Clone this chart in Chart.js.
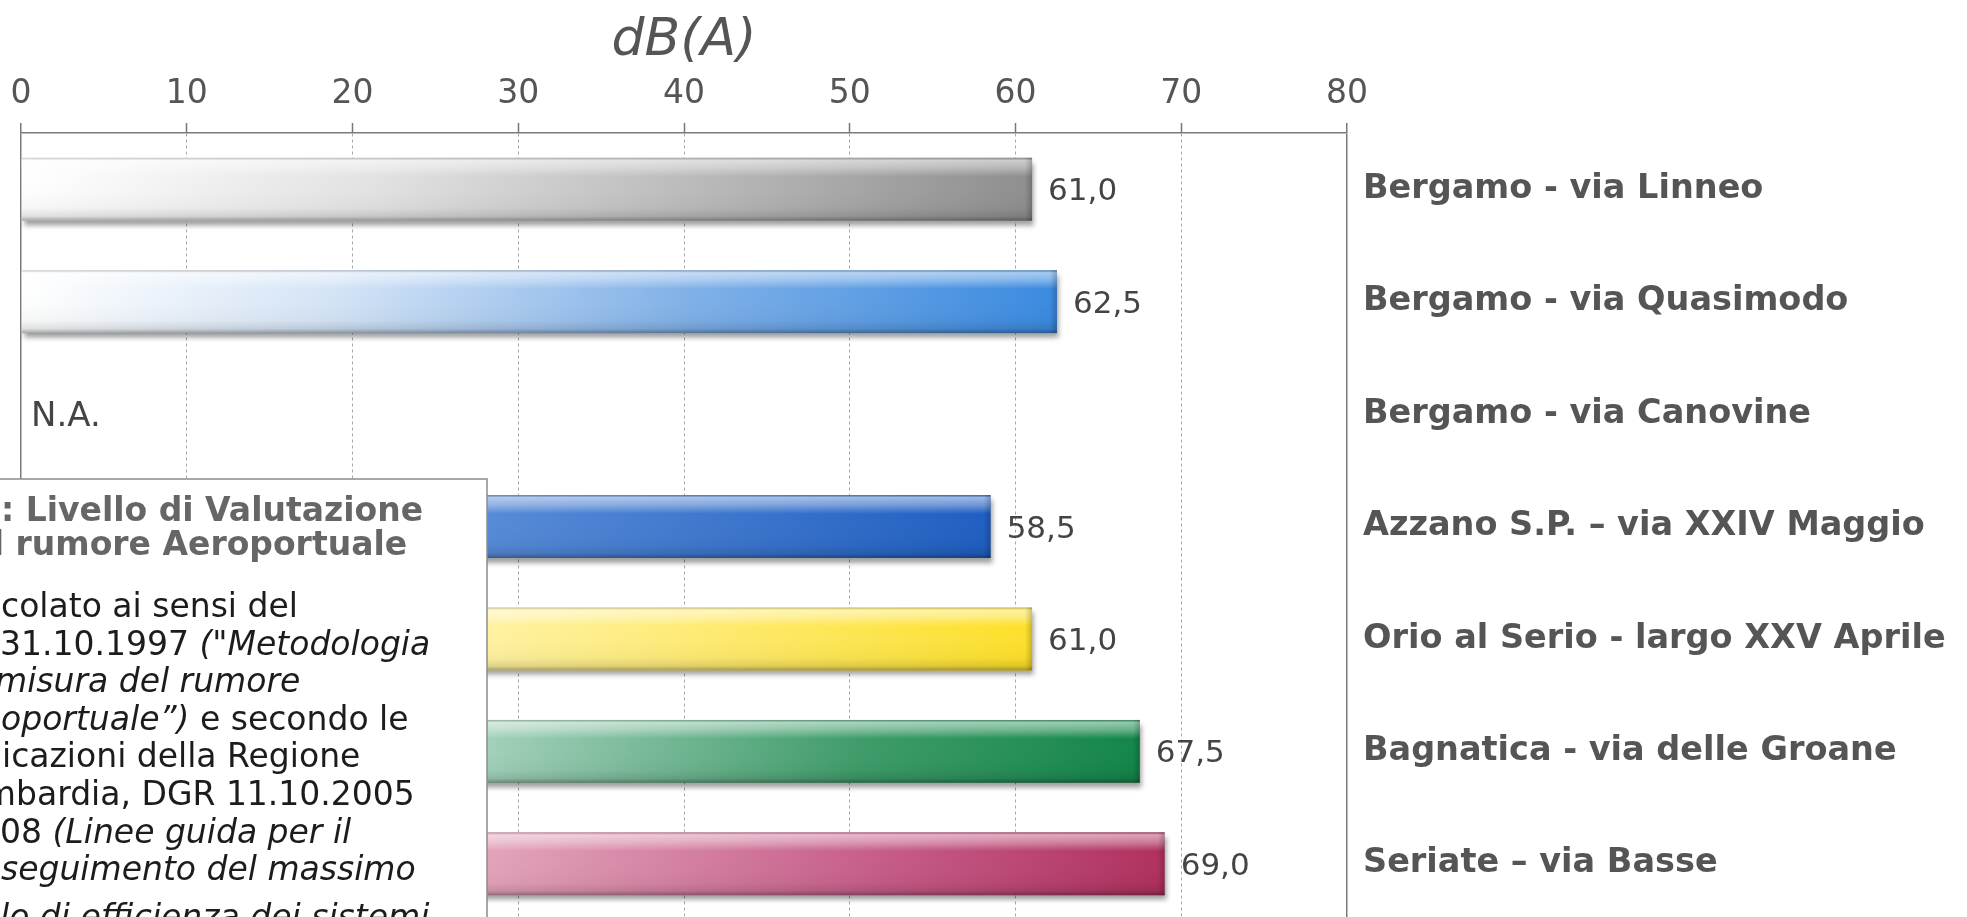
<!DOCTYPE html>
<html>
<head>
<meta charset="utf-8">
<script src="https://cdn.jsdelivr.net/npm/chart.js@4.4.1/dist/chart.umd.min.js"></script>
<style>
  html, body { margin: 0; padding: 0; background: #fff; overflow: hidden; }
  #wrap { width: 1967px; height: 932px; }
</style>
</head>
<body>
<div id="wrap"><canvas id="myChart" width="1967" height="932"></canvas></div>
<script>
// Chart data
var stations = [
    'Bergamo - via Linneo',
    'Bergamo - via Quasimodo',
    'Bergamo - via Canovine',
    'Azzano S.P. \u2013 via XXIV Maggio',
    'Orio al Serio - largo XXV Aprile',
    'Bagnatica - via delle Groane',
    'Seriate \u2013 via Basse'
];
var lvaValues = [61.0, 62.5, null, 58.5, 61.0, 67.5, 69.0];
var xTicks = [0, 10, 20, 30, 40, 50, 60, 70, 80];
var axisTitle = 'dB(A)';
var missingLabel = 'N.A.';

// Bar colours, left (light) -> right (dark)
var barStops = [
    [[0, '#ffffff'], [0.35, '#e2e2e2'], [0.75, '#b0b0b0'], [1, '#8e8e8e']],
    [[0, '#ffffff'], [0.3, '#d4e4f6'], [0.65, '#7fb0e8'], [1, '#3a8ae0']],
    [[0, '#ffffff'], [1, '#ffffff']],
    [[0, '#c4d6f2'], [0.45, '#5a8dd8'], [1, '#1f5fc2']],
    [[0, '#fffbe2'], [0.45, '#fff2a4'], [1, '#fde02a']],
    [[0, '#eaf5ef'], [0.4, '#a8d3be'], [0.75, '#3e9c6a'], [1, '#13864a']],
    [[0, '#fbe8ef'], [0.4, '#e3a5bc'], [0.75, '#c65d89'], [1, '#b0305f']]
];

// Text box drawn over the left part of the chart (cut by the page edge)
var noteLines = [
    { hide: '', parts: [[': Livello di Valutazione', 'b']] },
    { hide: 'del', parts: [[' rumore Aeroportuale', 'b']] },
    { hide: '', parts: [['colato ai sensi del', 'n']] },
    { hide: '', parts: [['31.10.1997 ', 'n'], ['("Metodologia', 'i']] },
    { hide: '', parts: [['misura del rumore', 'i']] },
    { hide: '', parts: [['oportuale\u201D)', 'i'], [' e secondo le', 'n']] },
    { hide: '', parts: [['icazioni della Regione', 'n']] },
    { hide: 'Lom', parts: [['bardia, DGR 11.10.2005', 'n']] },
    { hide: '', parts: [['08 ', 'n'], ['(Linee guida per il', 'i']] },
    { hide: '', parts: [['seguimento del massimo', 'i']] },
    { hide: '', parts: [['lo di efficienza dei sistemi', 'i']] }
];
var noteStartX = [1, 4, 1, 0, -5, 1, 2, 16, 0, 1, 0];

var FONT = '"DejaVu Sans", Verdana, sans-serif';
var canvasId = 'myChart';

function fmt(v) {
    return v.toFixed(1).replace('.', ',');
}

/**
 * Horizontal gradient for each bar, from value 0 to the bar's end
 */
function barFill(context) {
    let chart = context.chart;
    let i = context.dataIndex;
    let stops = barStops[i];
    if (!chart.chartArea || lvaValues[i] == null) {
        return stops[stops.length - 1][1];
    }
    let xs = chart.scales.x;
    let x0 = xs.getPixelForValue(0);
    let x1 = xs.getPixelForValue(lvaValues[i]);
    let g = chart.ctx.createLinearGradient(x0, 0, x1, 0);
    stops.forEach(function (s) { g.addColorStop(s[0], s[1]); });
    return g;
}

// Shadow under bars + glossy bevel on top of them
var barStyle = {
    id: 'barStyle',
    beforeDatasetsDraw: function (chart) {
        let c = chart.ctx;
        c.save();
        c.shadowColor = 'rgba(0,0,0,0.38)';
        c.shadowBlur = 5;
        c.shadowOffsetX = 2;
        c.shadowOffsetY = 5;
    },
    afterDatasetsDraw: function (chart) {
        let c = chart.ctx;
        c.restore();
        let meta = chart.getDatasetMeta(0);
        meta.data.forEach(function (bar, i) {
            if (lvaValues[i] == null) return;
            let h = bar.height;
            let top = bar.y - h / 2;
            let left = bar.base;
            let w = bar.x - bar.base;
            let g = c.createLinearGradient(0, top, 0, top + h);
            g.addColorStop(0, 'rgba(120,120,120,0.35)');
            g.addColorStop(0.04, 'rgba(255,255,255,0.55)');
            g.addColorStop(0.16, 'rgba(255,255,255,0.35)');
            g.addColorStop(0.3, 'rgba(255,255,255,0)');
            g.addColorStop(0.8, 'rgba(0,0,0,0.03)');
            g.addColorStop(0.93, 'rgba(0,0,0,0.12)');
            g.addColorStop(1, 'rgba(0,0,0,0.35)');
            c.fillStyle = g;
            c.fillRect(left, top, w, h);
            let gr = c.createLinearGradient(bar.x - 7, 0, bar.x, 0);
            gr.addColorStop(0, 'rgba(0,0,0,0)');
            gr.addColorStop(1, 'rgba(0,0,0,0.2)');
            c.fillStyle = gr;
            c.fillRect(bar.x - 7, top, 7, h);
        });
    }
};

// Value labels, N.A. and the note box
var overlays = {
    id: 'overlays',
    afterDraw: function (chart) {
        let c = chart.ctx;
        let xs = chart.scales.x;
        let ys = chart.scales.y;
        c.save();
        c.fillStyle = '#444';
        c.textAlign = 'left';
        c.textBaseline = 'middle';
        let meta = chart.getDatasetMeta(0);
        lvaValues.forEach(function (v, i) {
            let y = ys.getPixelForValue(i) + 3;
            if (v == null) {
                c.font = '34px ' + FONT;
                c.fillText(missingLabel, xs.getPixelForValue(0) + 10, y);
            } else {
                c.font = '31px ' + FONT;
                c.fillText(fmt(v), meta.data[i].x + 16, y);
            }
        });

        // note box
        c.fillStyle = '#ffffff';
        c.fillRect(-5, 479, 492, 480);
        c.strokeStyle = '#8c8c8c';
        c.lineWidth = 1.5;
        c.strokeRect(-5, 479, 492, 480);

        c.textBaseline = 'alphabetic';
        let baselines = [521, 555];
        for (let k = 2; k < noteLines.length - 1; k++) {
            baselines.push(617 + (k - 2) * 37.6);
        }
        baselines.push(928);
        let style = function (s) {
            if (s === 'b') return 'bold 33px ' + FONT;
            if (s === 'i') return 'italic 33px ' + FONT;
            return '33px ' + FONT;
        };
        noteLines.forEach(function (line, k) {
            let first = line.parts[0][1];
            c.font = style(first);
            let x = noteStartX[k] - c.measureText(line.hide).width;
            c.fillStyle = first === 'b' ? '#666666' : '#1c1c1c';
            if (line.hide) {
                c.fillText(line.hide, x, baselines[k]);
            }
            x += c.measureText(line.hide).width;
            line.parts.forEach(function (p) {
                c.font = style(p[1]);
                c.fillStyle = p[1] === 'b' ? '#666666' : '#1c1c1c';
                c.fillText(p[0], x, baselines[k]);
                x += c.measureText(p[0]).width;
            });
        });
        c.restore();
    }
};

function isEdge(ctx) {
    return ctx.tick && (ctx.tick.value === xTicks[0] || ctx.tick.value === xTicks[xTicks.length - 1]);
}

function createChart() {
    let ctx = document.getElementById(canvasId).getContext('2d');
    let chart = new Chart(ctx, {
        type: 'bar',
        data: {
            labels: stations,
            datasets: [{
                data: lvaValues,
                backgroundColor: barFill,
                borderWidth: 0,
                categoryPercentage: 1,
                barPercentage: 0.56
            }]
        },
        options: {
            indexAxis: 'y',
            responsive: false,
            animation: false,
            devicePixelRatio: 1,
            layout: { padding: { left: 21, top: 0, right: 0, bottom: 12 } },
            plugins: {
                legend: { display: false },
                tooltip: { enabled: false }
            },
            scales: {
                x: {
                    position: 'top',
                    min: xTicks[0],
                    max: xTicks[xTicks.length - 1],
                    afterBuildTicks: function (scale) {
                        scale.ticks = xTicks.map(function (v) { return { value: v }; });
                    },
                    ticks: {
                        color: '#555',
                        padding: 9,
                        font: { family: FONT, size: 33 }
                    },
                    grid: {
                        color: function (ctx) { return isEdge(ctx) ? '#7a7a7a' : '#a8a8a8'; },
                        lineWidth: function (ctx) { return isEdge(ctx) ? 1.5 : 1; },
                        tickLength: 10,
                        tickColor: '#777',
                        tickWidth: 1.5
                    },
                    border: {
                        display: true,
                        color: '#7a7a7a',
                        width: 1.5,
                        dash: function (ctx) { return isEdge(ctx) ? [] : [3, 3]; }
                    },
                    title: {
                        display: true,
                        text: axisTitle,
                        color: '#555',
                        padding: { top: 10, bottom: 0 },
                        font: { family: FONT, size: 52, style: 'italic' }
                    },
                    afterFit: function (scale) {
                        scale.height = 133;
                        scale.paddingLeft = 0;
                        scale.paddingRight = 0;
                    }
                },
                y: {
                    position: 'right',
                    grid: { display: false, drawTicks: false },
                    border: { display: false },
                    ticks: {
                        color: '#555',
                        padding: 16,
                        font: { family: FONT, size: 33.5, weight: 'bold' }
                    },
                    afterFit: function (scale) {
                        scale.width = 1967 - 1347;
                        scale.paddingTop = 0;
                        scale.paddingBottom = 0;
                    }
                }
            }
        },
        plugins: [barStyle, overlays]
    });
    return chart;
}

createChart();
</script>
</body>
</html>
